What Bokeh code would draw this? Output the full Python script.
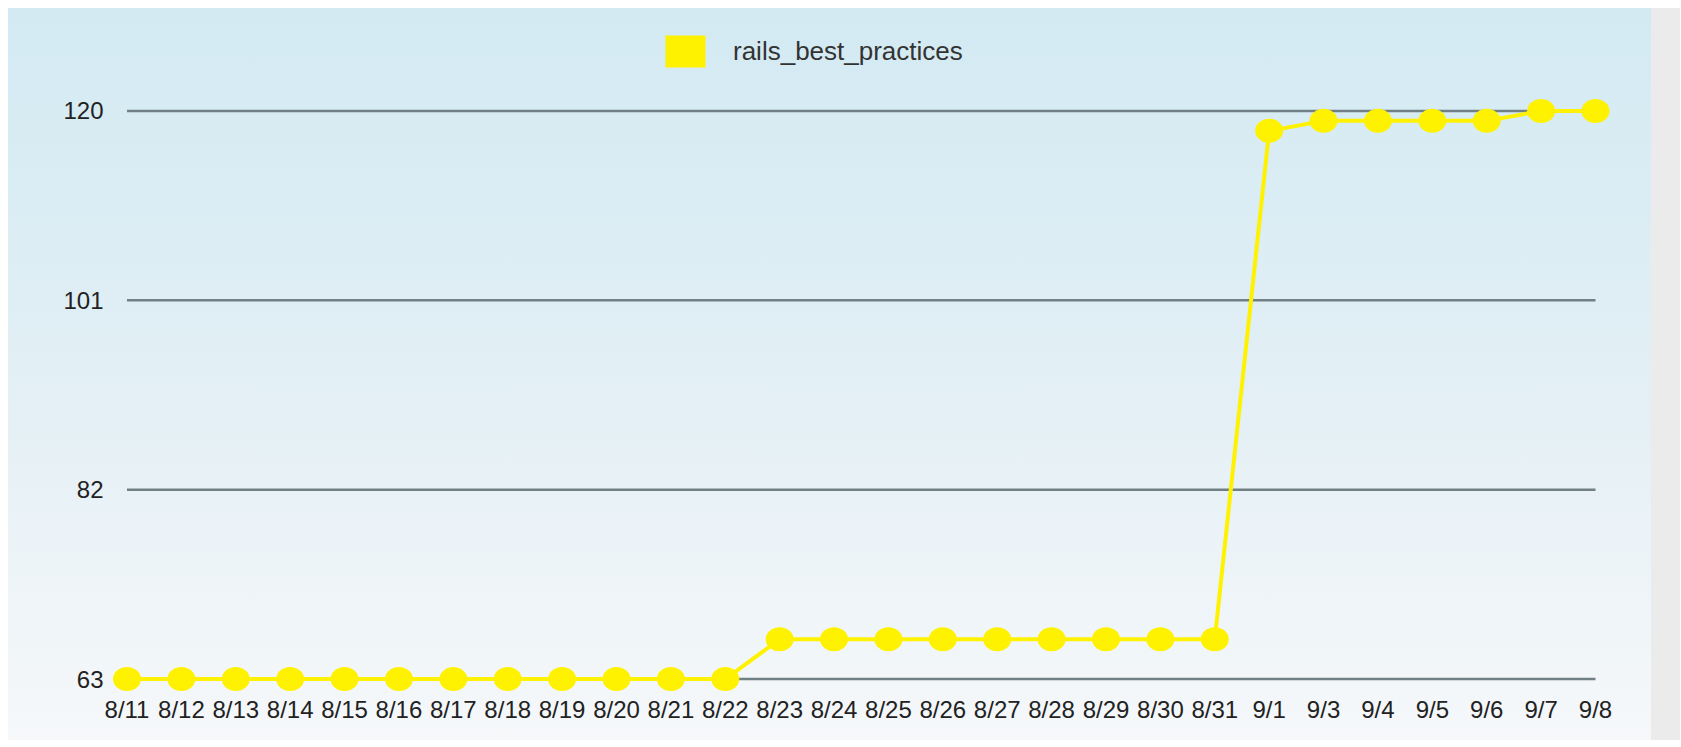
from bokeh.plotting import figure
from bokeh.models import Range1d, FixedTicker, Legend, LegendItem, ColumnDataSource
from bokeh.embed import file_html
from bokeh.resources import INLINE

# ---- data ----
dates = ["8/11", "8/12", "8/13", "8/14", "8/15", "8/16", "8/17", "8/18", "8/19", "8/20",
         "8/21", "8/22", "8/23", "8/24", "8/25", "8/26", "8/27", "8/28", "8/29", "8/30",
         "8/31", "9/1", "9/3", "9/4", "9/5", "9/6", "9/7", "9/8"]
counts = [63, 63, 63, 63, 63, 63, 63, 63, 63, 63,
          63, 63, 67, 67, 67, 67, 67, 67, 67, 67,
          67, 118, 119, 119, 119, 119, 120, 120]
y_ticks = [63, 82, 101, 120]
series_name = "rails_best_practices"

# ---- layout (pixels, relative to the figure) ----
W, H = 1672, 732
B_LEFT, B_RIGHT, B_TOP, B_BOTTOM = 98, 65, 0, 47
FIRST_X_PX, LAST_X_PX = 118.5, 1587.0     # where first / last category sit
TOP_TICK_PX, BOTTOM_TICK_PX = 102.4, 670.6  # where highest / lowest tick sit

idx = list(range(len(dates)))
n = len(dates) - 1
frame_l, frame_r = B_LEFT, W - B_RIGHT
frame_t, frame_b = B_TOP, H - B_BOTTOM
ppx = (LAST_X_PX - FIRST_X_PX) / n
x0 = idx[0] - (FIRST_X_PX - frame_l) / ppx
x1 = idx[-1] + (frame_r - LAST_X_PX) / ppx
ymin_t, ymax_t = min(y_ticks), max(y_ticks)
ppy = (BOTTOM_TICK_PX - TOP_TICK_PX) / (ymax_t - ymin_t)
y0 = ymin_t - (frame_b - BOTTOM_TICK_PX) / ppy
y1 = ymax_t + (TOP_TICK_PX - frame_t) / ppy

YELLOW = "#fff200"
FONT = "Liberation Sans"
TEXT = "#222222"

src = ColumnDataSource(dict(x=idx, y=counts))

p = figure(width=W, height=H,
           x_range=Range1d(x0, x1), y_range=Range1d(y0, y1),
           output_backend="svg", toolbar_location=None,
           min_border_left=B_LEFT, min_border_right=B_RIGHT,
           min_border_top=B_TOP, min_border_bottom=B_BOTTOM)
p.margin = (8, 0, 0, 8)

p.border_fill_color = None
p.background_fill_color = None
p.outline_line_color = None
p.styles = {"background": "linear-gradient(to right, rgba(0,0,0,0) 1643px, #ebebeb 1643px), "
                          "linear-gradient(to bottom, #d3eaf3 0%, #e2eff5 50%, #f6f8fa 100%)"}
p.xgrid.visible = False
p.ygrid.visible = False

# grid lines spanning first to last category
p.segment(x0=[idx[0] for _ in y_ticks], x1=[idx[-1] for _ in y_ticks],
          y0=y_ticks, y1=y_ticks, line_color="#718085", line_width=2.5)

# series
p.line("x", "y", source=src, line_color=YELLOW, line_width=4)
p.ellipse("x", "y", source=src, width=28, height=24,
          width_units="screen", height_units="screen",
          fill_color=YELLOW, line_color=None)

# legend swatch (zero-area quads at the data points)
swatch = p.quad(left="x", right="x", top="y", bottom="y", source=src,
                fill_color=YELLOW, line_color=None)

legend = Legend(items=[LegendItem(label=series_name, renderers=[swatch])],
                location=(554, frame_b - 63), glyph_width=50, glyph_height=40,
                padding=0, margin=0, spacing=0, label_standoff=23,
                label_text_font=FONT, label_text_font_size="26px",
                label_text_color="#333333",
                border_line_color=None, background_fill_alpha=0)
p.add_layout(legend)

# axes
for ax in (p.xaxis, p.yaxis):
    ax.axis_line_color = None
    ax.major_tick_line_color = None
    ax.minor_tick_line_color = None
    ax.major_label_text_font = FONT
    ax.major_label_text_font_size = "24px"
    ax.major_label_text_color = TEXT

p.xaxis.ticker = FixedTicker(ticks=idx)
p.xaxis.major_label_overrides = {i: d for i, d in zip(idx, dates)}
p.xaxis.major_label_standoff = -4
p.yaxis.ticker = FixedTicker(ticks=y_ticks)
p.yaxis.major_label_standoff = -3

open("out.html", "w").write(file_html(p, INLINE))
